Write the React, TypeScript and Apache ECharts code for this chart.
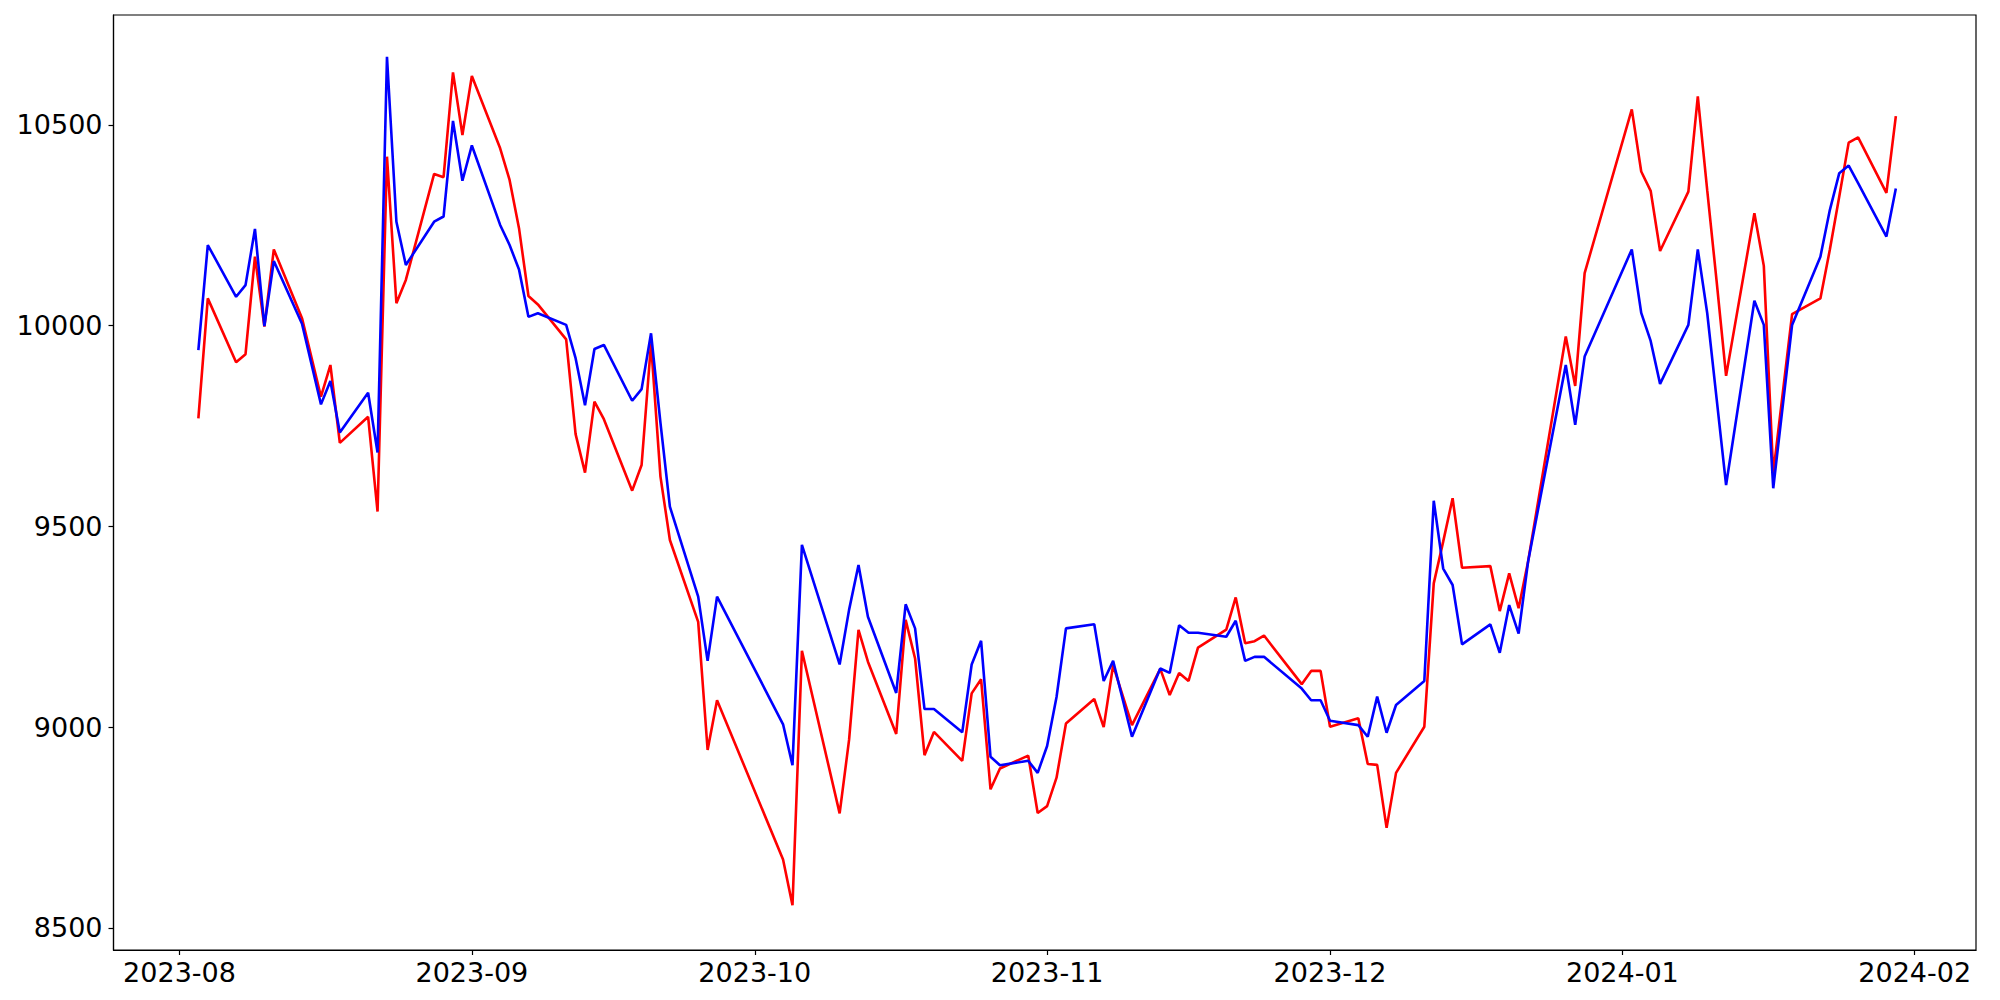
import React, { useEffect, useRef } from "react";
import * as echarts from "echarts";

const dates: string[] = [
  "2023-08-03","2023-08-04","2023-08-07","2023-08-08","2023-08-09","2023-08-10","2023-08-11","2023-08-14","2023-08-16","2023-08-17","2023-08-18","2023-08-21","2023-08-22","2023-08-23","2023-08-24","2023-08-25","2023-08-28","2023-08-29","2023-08-30","2023-08-31",
  "2023-09-01","2023-09-04","2023-09-05","2023-09-06","2023-09-07","2023-09-08","2023-09-11","2023-09-12","2023-09-13","2023-09-14","2023-09-15","2023-09-18","2023-09-19","2023-09-20","2023-09-21","2023-09-22","2023-09-25","2023-09-26","2023-09-27",
  "2023-10-04","2023-10-05","2023-10-06","2023-10-10","2023-10-11","2023-10-12","2023-10-13","2023-10-16","2023-10-17","2023-10-18","2023-10-19","2023-10-20","2023-10-23","2023-10-24","2023-10-25","2023-10-26","2023-10-27","2023-10-30","2023-10-31",
  "2023-11-01","2023-11-02","2023-11-03","2023-11-06","2023-11-07","2023-11-08","2023-11-10","2023-11-13","2023-11-14","2023-11-15","2023-11-16","2023-11-17","2023-11-20","2023-11-21","2023-11-22","2023-11-23","2023-11-24","2023-11-28","2023-11-29","2023-11-30",
  "2023-12-01","2023-12-04","2023-12-05","2023-12-06","2023-12-07","2023-12-08","2023-12-11","2023-12-12","2023-12-13","2023-12-14","2023-12-15","2023-12-18","2023-12-19","2023-12-20","2023-12-21","2023-12-22","2023-12-26","2023-12-27","2023-12-28",
  "2024-01-02","2024-01-03","2024-01-04","2024-01-05","2024-01-08","2024-01-09","2024-01-10","2024-01-11","2024-01-12","2024-01-15","2024-01-16","2024-01-17","2024-01-19","2024-01-22","2024-01-23","2024-01-24","2024-01-25","2024-01-26","2024-01-29","2024-01-30",
];

const redValues: number[] = [
  9769,10068,9909,9929,10172,9998,10190,10018,9823,9902,9708,9773,9537,10421,10056,10114,10378,10370,10631,10475,
  10622,10442,10363,10243,10074,10053,9966,9730,9634,9811,9767,9589,9653,9956,9624,9466,9262,8943,9067,
  8670,8556,9190,8785,8968,9242,9163,8983,9267,9171,8930,8988,8916,9084,9119,8845,8897,8929,8786,
  8803,8874,9009,9070,9000,9154,9005,9145,9080,9135,9115,9198,9243,9323,9209,9214,9228,9107,9140,9140,
  9001,9022,8908,8906,8749,8886,9001,9358,9462,9570,9397,9401,9289,9383,9296,9412,9973,9850,10131,
  10539,10384,10336,10186,10334,10571,10337,10110,9875,10280,10149,9632,10029,10068,10189,10322,10456,10469,10331,10522,
];

const blueValues: number[] = [
  9939,10201,10072,10101,10241,9999,10161,10004,9804,9862,9734,9833,9684,10670,10259,10151,10259,10272,10510,10361,
  10449,10251,10201,10140,10022,10031,10002,9919,9802,9942,9952,9813,9842,9981,9758,9549,9325,9165,9325,
  9007,8905,9454,9156,9292,9404,9275,9085,9306,9246,9045,9045,8987,9156,9215,8926,8905,8916,8886,
  8953,9075,9246,9256,9115,9165,8976,9146,9135,9254,9235,9235,9225,9265,9165,9175,9175,9096,9067,9067,
  9016,9005,8976,9076,8986,9055,9115,9564,9395,9354,9206,9256,9185,9304,9233,9412,9902,9753,9923,
  10190,10032,9962,9855,10002,10190,10031,9817,9603,10062,10002,9595,10002,10172,10288,10380,10399,10355,10222,10342,
];

const yTicks: number[] = [8500, 9000, 9500, 10000, 10500];
const monthTicks: string[] = ["2023-08-01","2023-09-01","2023-10-01","2023-11-01","2023-12-01","2024-01-01","2024-02-01"];

function toTs(s: string, hour = 0): number {
  const [y, m, d] = s.split("-").map(Number);
  return new Date(y, m - 1, d, hour).getTime();
}

function fmtMonth(v: number): string {
  const d = new Date(v);
  const mm = String(d.getMonth() + 1).padStart(2, "0");
  return `${d.getFullYear()}-${mm}`;
}

export default function App() {
  const ref = useRef<HTMLDivElement>(null);
  useEffect(() => {
    document.body.style.margin = "0";
    if (!ref.current) return;
    const chart = echarts.init(ref.current, null, { renderer: "svg" });
    const font = "DejaVu Sans";
    const monthTs = monthTicks.map((s) => toTs(s));
    chart.setOption({
      animation: false,
      backgroundColor: "#ffffff",
      grid: {
        left: 113.5,
        right: 24,
        top: 15,
        bottom: 50,
        show: true,
        borderColor: "#000000",
        borderWidth: 1.2,
        backgroundColor: "transparent",
      },
      xAxis: {
        type: "value",
        min: toTs("2023-07-25"),
        max: toTs("2024-02-07", 12),
        scale: true,
        splitLine: { show: false },
        axisLine: { show: true, lineStyle: { color: "#000", width: 1.2 } },
        axisTick: {
          show: true,
          length: 5,
          lineStyle: { color: "#000", width: 1.2 },
          customValues: monthTs,
        },
        axisLabel: {
          customValues: monthTs,
          formatter: (v: number) => fmtMonth(v),
          fontFamily: font,
          fontSize: 27,
          color: "#000",
          margin: 9,
        },
      },
      yAxis: {
        type: "value",
        min: 8444.7,
        max: 10774,
        scale: true,
        splitLine: { show: false },
        axisLine: { show: true, lineStyle: { color: "#000", width: 1.2 } },
        axisTick: {
          show: true,
          length: 5,
          lineStyle: { color: "#000", width: 1.2 },
          customValues: yTicks,
        },
        axisLabel: {
          customValues: yTicks,
          formatter: (v: number) => String(Math.round(v)),
          fontFamily: font,
          fontSize: 27,
          color: "#000",
          margin: 11,
        },
      },
      series: [
        {
          type: "line",
          name: "red",
          data: dates.map((d, i) => [toTs(d), redValues[i]]),
          showSymbol: false,
          symbol: "none",
          lineStyle: { color: "#ff0000", width: 2.6 },
          itemStyle: { color: "#ff0000" },
        },
        {
          type: "line",
          name: "blue",
          data: dates.map((d, i) => [toTs(d), blueValues[i]]),
          showSymbol: false,
          symbol: "none",
          lineStyle: { color: "#0000ff", width: 2.6 },
          itemStyle: { color: "#0000ff" },
        },
      ],
    });
    return () => chart.dispose();
  }, []);
  return <div ref={ref} style={{ width: 2000, height: 1000 }} />;
}
